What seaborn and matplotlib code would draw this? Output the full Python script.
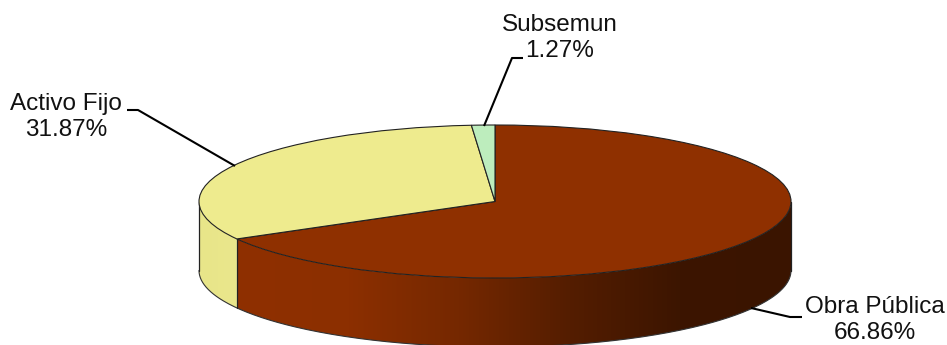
import numpy as np
import matplotlib
matplotlib.use("Agg")
import matplotlib.pyplot as plt
from matplotlib.patches import Polygon
import seaborn as sns

categories = ["Obra Pública", "Activo Fijo", "Subsemun"]
shares = [66.86, 31.87, 1.27]
slice_colors = ["#8F3000", "#EEEB8E", "#BDEDBD"]

sns.set_theme(style="white")
plt.rcParams["font.family"] = ["Liberation Sans", "DejaVu Sans"]

W, H = 947, 345
CX, CY, RX, RY, DEPTH = 495, 201.5, 296, 76.5, 69

fig = plt.figure(figsize=(W / 100, H / 100), dpi=100)
ax = fig.add_axes([0, 0, 1, 1])


def px(x, y):
    """Pixel position to unit-pie coordinates."""
    return (x - CX) / RX, (CY - y) / RY


wedges, _ = ax.pie(
    shares, colors=slice_colors, startangle=90, counterclock=False,
    radius=1, center=(0, 0),
    wedgeprops={"edgecolor": "#222222", "linewidth": 0.8, "zorder": 5},
)

depth = DEPTH / RY
boundary_rad = np.deg2rad((90 - shares[0] / 100 * 360) % 360)


def shaded_wall(t0, t1, stops):
    """Fill the disc wall between two angles with a left-to-right gradient."""
    t = np.linspace(t0, t1, 200)
    x, y = np.cos(t), np.sin(t)
    outline = np.vstack([np.column_stack([x, y]),
                         np.column_stack([x[::-1], y[::-1] - depth])])
    ramp = np.array(sns.blend_palette(stops, 256))[None, :, :3]
    img = ax.imshow(ramp, extent=(x.min(), x.max(), y.min() - depth, y.max()),
                    aspect="auto", zorder=2, interpolation="bilinear")
    clip = Polygon(outline, closed=True, transform=ax.transData,
                   facecolor="none", edgecolor="none")
    ax.add_patch(clip)
    img.set_clip_path(clip)


shaded_wall(np.pi, boundary_rad, ["#E8E589", "#EAE78C"])
shaded_wall(boundary_rad, 2 * np.pi,
            ["#8F3000", "#8C2F00", "#752800", "#541D00", "#3C1500", "#3A1400"])

# Squash the pie into a tilted ellipse
ax.set_aspect("auto")
ax.set_xlim((0 - CX) / RX, (W - CX) / RX)
ax.set_ylim((CY - H) / RY, CY / RY)
ax.axis("off")

# Outline of the wall
theta_all = np.linspace(np.pi, 2 * np.pi, 300)
ax.plot(np.cos(theta_all), np.sin(theta_all) - depth, color="#333333", lw=0.8, zorder=3)
for t in (np.pi, boundary_rad, 2 * np.pi):
    ax.plot([np.cos(t)] * 2, [np.sin(t), np.sin(t) - depth], color="#222222", lw=0.9, zorder=3)

# Labels with elbowed leader lines
label_text = {c: f"{c}\n{s:.2f}%" for c, s in zip(categories, shares)}
label_pos = {"Obra Pública": (875, 320), "Activo Fijo": (66, 117), "Subsemun": (560, 38)}
leaders = {
    "Obra Pública": [(751, 308), (790, 317), (802, 317)],
    "Activo Fijo": [(235, 166), (138, 110), (127, 110)],
    "Subsemun": [(484, 126), (512, 58), (523, 58)],
}
for name in categories:
    ax.text(*px(*label_pos[name]), label_text[name], ha="center", va="center",
            fontsize=17.5, color="#111111", linespacing=1.28, zorder=7)
    pts = np.array([px(*p) for p in leaders[name]])
    ax.plot(pts[:, 0], pts[:, 1], color="black", lw=1.5, zorder=6, solid_capstyle="butt")

fig.savefig("out.png", dpi=100, facecolor="white")
